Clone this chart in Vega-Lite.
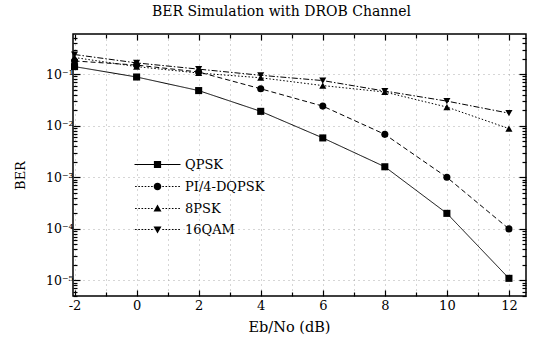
{
  "$schema": "https://vega.github.io/schema/vega-lite/v6.json",
  "width": 453,
  "height": 262,
  "autosize": {"type": "none"},
  "padding": {"left": 73, "top": 34, "right": 7, "bottom": 47},
  "title": {
    "text": "BER Simulation with DROB Channel",
    "font": "DejaVu Serif",
    "fontSize": 14,
    "fontWeight": "normal",
    "color": "black",
    "offset": 14,
    "dx": -18
  },
  "config": {
    "font": "DejaVu Serif",
    "view": {"stroke": "black", "strokeWidth": 1.5},
    "axis": {
      "domain": false,
      "labelFont": "DejaVu Serif",
      "labelFontSize": 13,
      "labelColor": "black",
      "titleFont": "DejaVu Serif",
      "titleFontSize": 14,
      "titleFontWeight": "normal",
      "titleColor": "black",
      "tickColor": "black",
      "tickWidth": 1.2,
      "gridColor": "#999",
      "gridDash": [1, 4],
      "gridWidth": 1
    },
    "legend": {
      "labelFont": "DejaVu Serif",
      "labelFontSize": 13,
      "labelColor": "black"
    }
  },
  "data": {
    "values": [
      {"snr": -2, "ber": 0.14, "series": "QPSK"},
      {"snr": 0, "ber": 0.088, "series": "QPSK"},
      {"snr": 2, "ber": 0.048, "series": "QPSK"},
      {"snr": 4, "ber": 0.019, "series": "QPSK"},
      {"snr": 6, "ber": 0.0058, "series": "QPSK"},
      {"snr": 8, "ber": 0.0016, "series": "QPSK"},
      {"snr": 10, "ber": 0.0002, "series": "QPSK"},
      {"snr": 12, "ber": 0.000011, "series": "QPSK"},
      {"snr": -2, "ber": 0.18, "series": "PI/4-DQPSK"},
      {"snr": 0, "ber": 0.15, "series": "PI/4-DQPSK"},
      {"snr": 2, "ber": 0.11, "series": "PI/4-DQPSK"},
      {"snr": 4, "ber": 0.052, "series": "PI/4-DQPSK"},
      {"snr": 6, "ber": 0.024, "series": "PI/4-DQPSK"},
      {"snr": 8, "ber": 0.0068, "series": "PI/4-DQPSK"},
      {"snr": 10, "ber": 0.001, "series": "PI/4-DQPSK"},
      {"snr": 12, "ber": 0.0001, "series": "PI/4-DQPSK"},
      {"snr": -2, "ber": 0.21, "series": "8PSK"},
      {"snr": 0, "ber": 0.14, "series": "8PSK"},
      {"snr": 2, "ber": 0.105, "series": "8PSK"},
      {"snr": 4, "ber": 0.085, "series": "8PSK"},
      {"snr": 6, "ber": 0.06, "series": "8PSK"},
      {"snr": 8, "ber": 0.045, "series": "8PSK"},
      {"snr": 10, "ber": 0.023, "series": "8PSK"},
      {"snr": 12, "ber": 0.0088, "series": "8PSK"},
      {"snr": -2, "ber": 0.24, "series": "16QAM"},
      {"snr": 0, "ber": 0.165, "series": "16QAM"},
      {"snr": 2, "ber": 0.125, "series": "16QAM"},
      {"snr": 4, "ber": 0.095, "series": "16QAM"},
      {"snr": 6, "ber": 0.075, "series": "16QAM"},
      {"snr": 8, "ber": 0.047, "series": "16QAM"},
      {"snr": 10, "ber": 0.03, "series": "16QAM"},
      {"snr": 12, "ber": 0.0175, "series": "16QAM"}
    ]
  },
  "layer": [
    {
      "mark": {"type": "line", "color": "black", "strokeWidth": 1},
      "encoding": {
        "x": {
          "field": "snr",
          "type": "quantitative",
          "scale": {"domain": [-2.05, 12.55], "nice": false, "zero": false},
          "axis": {
            "orient": "bottom",
            "title": "Eb/No (dB)",
            "titleFontSize": 14.5,
            "titleX": 216,
            "titlePadding": 8,
            "values": [-2, -1, 0, 1, 2, 3, 4, 5, 6, 7, 8, 9, 10, 11, 12],
            "labelExpr": "datum.value % 2 == 0 ? '' + datum.value : ''",
            "labelPadding": 9,
            "tickSize": {"condition": {"test": "datum.value % 2 == 0", "value": -6}, "value": -4},
            "grid": true,
            "gridOpacity": 0.8
          }
        },
        "y": {
          "field": "ber",
          "type": "quantitative",
          "scale": {"type": "log", "domain": [0.000005, 0.6], "nice": false},
          "axis": {
            "orient": "left",
            "title": "BER",
            "titleFontSize": 13,
            "titleY": 141,
            "titlePadding": 18,
            "values": [0.000005, 0.000006, 0.000007, 0.000008, 0.000009,
                       0.00001, 0.00002, 0.00003, 0.00004, 0.00005, 0.00006, 0.00007, 0.00008, 0.00009,
                       0.0001, 0.0002, 0.0003, 0.0004, 0.0005, 0.0006, 0.0007, 0.0008, 0.0009,
                       0.001, 0.002, 0.003, 0.004, 0.005, 0.006, 0.007, 0.008, 0.009,
                       0.01, 0.02, 0.03, 0.04, 0.05, 0.06, 0.07, 0.08, 0.09,
                       0.1, 0.2, 0.3, 0.4, 0.5],
            "labelExpr": "abs(log(datum.value)/LN10 - round(log(datum.value)/LN10)) > 0.001 ? '' : '10' + ['⁻⁵','⁻⁴','⁻³','⁻²','⁻¹'][round(log(datum.value)/LN10) + 5]",
            "labelFontSize": 12.5,
            "labelPadding": 7,
            "tickSize": {"condition": {"test": "abs(log(datum.value)/LN10 - round(log(datum.value)/LN10)) < 0.001", "value": -7}, "value": -4},
            "grid": true,
            "gridOpacity": {"condition": {"test": "abs(log(datum.value)/LN10 - round(log(datum.value)/LN10)) < 0.001", "value": 0.8}, "value": 0}
          }
        },
        "strokeDash": {
          "field": "series",
          "type": "nominal",
          "scale": {
            "domain": ["QPSK", "PI/4-DQPSK", "8PSK", "16QAM"],
            "range": [[1, 0], [5, 3], [1.5, 2], [6, 2, 1.5, 2]]
          },
          "legend": null
        }
      }
    },
    {
      "mark": {"type": "point", "filled": true, "color": "black", "opacity": 1, "size": 50},
      "encoding": {
        "x": {
          "field": "snr",
          "type": "quantitative",
          "axis": {
            "orient": "top",
            "title": null,
            "labels": false,
            "values": [-2, -1, 0, 1, 2, 3, 4, 5, 6, 7, 8, 9, 10, 11, 12],
            "tickSize": {"condition": {"test": "datum.value % 2 == 0", "value": -6}, "value": -4}
          }
        },
        "y": {
          "field": "ber",
          "type": "quantitative",
          "axis": {
            "orient": "right",
            "title": null,
            "labels": false,
            "values": [0.000005, 0.000006, 0.000007, 0.000008, 0.000009,
                       0.00001, 0.00002, 0.00003, 0.00004, 0.00005, 0.00006, 0.00007, 0.00008, 0.00009,
                       0.0001, 0.0002, 0.0003, 0.0004, 0.0005, 0.0006, 0.0007, 0.0008, 0.0009,
                       0.001, 0.002, 0.003, 0.004, 0.005, 0.006, 0.007, 0.008, 0.009,
                       0.01, 0.02, 0.03, 0.04, 0.05, 0.06, 0.07, 0.08, 0.09,
                       0.1, 0.2, 0.3, 0.4, 0.5],
            "tickSize": {"condition": {"test": "abs(log(datum.value)/LN10 - round(log(datum.value)/LN10)) < 0.001", "value": -7}, "value": -4}
          }
        },
        "shape": {
          "field": "series",
          "type": "nominal",
          "scale": {
            "domain": ["QPSK", "PI/4-DQPSK", "8PSK", "16QAM"],
            "range": ["square", "circle", "triangle-up", "triangle-down"]
          },
          "legend": null
        }
      }
    },
    {
      "transform": [{"filter": "datum.snr > 100"}],
      "mark": {"type": "point", "filled": true, "color": "black", "opacity": 1},
      "encoding": {
        "shape": {
          "field": "series",
          "type": "nominal",
          "scale": {
            "domain": ["QPSK", "PI/4-DQPSK", "8PSK", "16QAM"],
            "range": [
              "M-5.75,-0.13H-0.9V0.13H-5.75ZM0.9,-0.13H5.75V0.13H0.9ZM-0.9,-0.9H0.9V0.9H-0.9Z",
              "M-5.6,-0.13h0.4v0.26h-0.4ZM-4.8,-0.13h0.4v0.26h-0.4ZM-4,-0.13h0.4v0.26h-0.4ZM-3.2,-0.13h0.4v0.26h-0.4ZM-2.4,-0.13h0.4v0.26h-0.4ZM-1.6,-0.13h0.4v0.26h-0.4ZM1.2,-0.13h0.4v0.26h-0.4ZM2,-0.13h0.4v0.26h-0.4ZM2.8,-0.13h0.4v0.26h-0.4ZM3.6,-0.13h0.4v0.26h-0.4ZM4.4,-0.13h0.4v0.26h-0.4ZM5.2,-0.13h0.4v0.26h-0.4ZM0.95,0A0.95,0.95 0 1,1 -0.95,0A0.95,0.95 0 1,1 0.95,0Z",
              "M-5.6,-0.13h0.4v0.26h-0.4ZM-4.8,-0.13h0.4v0.26h-0.4ZM-4,-0.13h0.4v0.26h-0.4ZM-3.2,-0.13h0.4v0.26h-0.4ZM-2.4,-0.13h0.4v0.26h-0.4ZM-1.6,-0.13h0.4v0.26h-0.4ZM1.2,-0.13h0.4v0.26h-0.4ZM2,-0.13h0.4v0.26h-0.4ZM2.8,-0.13h0.4v0.26h-0.4ZM3.6,-0.13h0.4v0.26h-0.4ZM4.4,-0.13h0.4v0.26h-0.4ZM5.2,-0.13h0.4v0.26h-0.4ZM0,-1L1,0.75L-1,0.75Z",
              "M-5.6,-0.13h0.4v0.26h-0.4ZM-4.8,-0.13h0.4v0.26h-0.4ZM-4,-0.13h0.4v0.26h-0.4ZM-3.2,-0.13h0.4v0.26h-0.4ZM-2.4,-0.13h0.4v0.26h-0.4ZM-1.6,-0.13h0.4v0.26h-0.4ZM1.2,-0.13h0.4v0.26h-0.4ZM2,-0.13h0.4v0.26h-0.4ZM2.8,-0.13h0.4v0.26h-0.4ZM3.6,-0.13h0.4v0.26h-0.4ZM4.4,-0.13h0.4v0.26h-0.4ZM5.2,-0.13h0.4v0.26h-0.4ZM0,1L1,-0.75L-1,-0.75Z"
            ]
          },
          "legend": {
            "title": null,
            "orient": "none",
            "legendX": 78,
            "legendY": 124,
            "padding": 0,
            "symbolSize": 64,
            "labelOffset": 21,
            "rowPadding": 7
          }
        }
      }
    }
  ],
  "resolve": {
    "scale": {"shape": "independent"},
    "axis": {"x": "independent", "y": "independent"}
  }
}
